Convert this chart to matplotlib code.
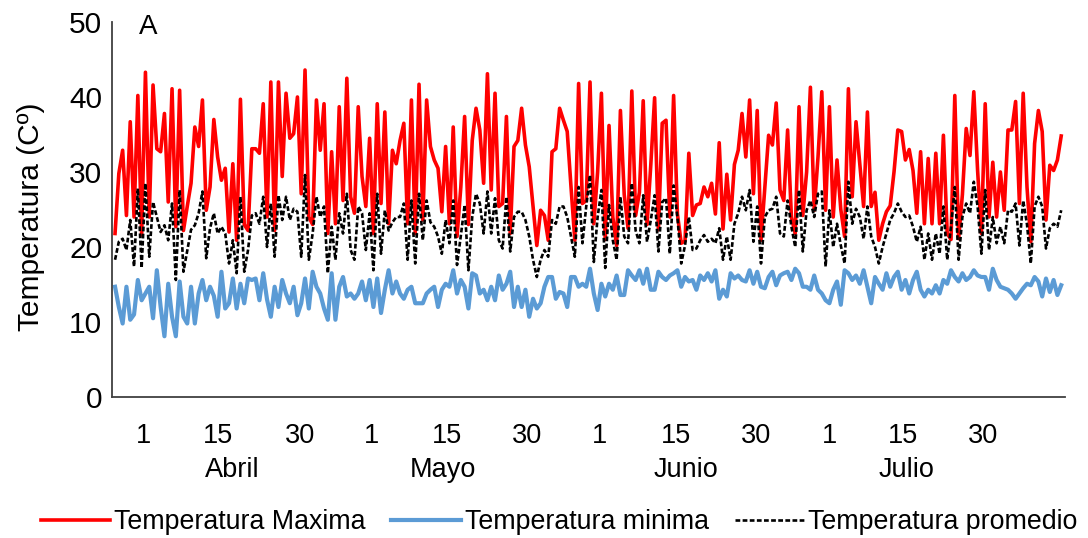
import matplotlib
matplotlib.use("Agg")
import matplotlib.pyplot as plt
import numpy as np

# ---- data ----
t_max = [21.8, 29.8, 32.9, 24.2, 36.7, 24.0, 40.2, 21.6, 43.3, 24.0, 41.6, 33.1, 32.7, 37.8, 26.0, 41.1, 22.7, 40.9, 22.2, 25.4, 28.5, 36.0, 33.4, 39.6, 24.9, 28.0, 37.0, 32.0, 28.9, 30.5, 22.0, 31.1, 20.9, 39.7, 23.0, 22.2, 33.1, 33.1, 32.5, 39.1, 24.0,
         42.0, 22.2, 42.0, 29.4, 40.5, 34.5, 35.1, 40.0, 27.1, 43.6, 24.0, 23.0, 39.6, 32.9, 39.1, 21.8, 32.7, 23.1, 38.7, 26.2, 42.5, 26.7, 24.5, 38.7, 29.4, 25.4, 34.5, 21.8, 39.1, 25.8, 38.0, 23.1, 32.9, 31.1, 34.2, 36.5, 23.1, 39.6, 21.8, 41.7, 23.6,
         39.6, 33.4, 31.6, 30.5, 24.7, 33.4, 23.1, 36.0, 21.4, 28.0, 37.4, 23.0, 34.2, 38.5, 35.6, 28.5, 43.1, 27.6, 40.5, 25.4, 25.8, 37.4, 21.8, 33.4, 34.2, 38.5, 33.6, 30.7, 25.4, 20.2, 24.9, 24.2, 20.9, 32.7, 33.1, 38.5, 36.9, 35.4, 28.0, 20.9, 41.8, 25.8, 26.2,
         42.0, 23.1, 30.0, 40.5, 21.0, 36.2, 24.0, 20.2, 38.2, 27.0, 22.5, 40.8, 24.2, 27.3, 39.5, 23.0, 31.0, 39.9, 22.3, 36.5, 36.9, 24.0, 40.2, 24.4, 20.5, 20.8, 32.5, 24.2, 25.6, 25.8, 28.0, 26.7, 28.5, 24.4, 33.9, 22.4, 29.7, 23.6, 31.0, 32.9, 37.8, 32.0,
         39.6, 27.1, 38.2, 20.9, 28.0, 34.9, 33.6, 39.2, 27.6, 26.2, 35.6, 24.0, 21.8, 38.7, 24.2, 30.0, 41.3, 24.9, 32.0, 40.7, 24.9, 38.7, 24.0, 31.6, 25.0, 21.4, 41.1, 26.7, 36.7, 31.1, 25.4, 38.0, 25.4, 27.3, 20.9, 23.1, 24.7, 25.5, 30.0, 35.6, 35.4, 31.6,
         33.0, 30.2, 24.5, 32.7, 23.1, 31.8, 23.1, 32.5, 23.1, 34.9, 21.8, 21.0, 40.2, 21.1, 27.0, 35.8, 32.2, 40.7, 30.2, 21.8, 39.1, 24.0, 31.3, 24.0, 30.0, 24.9, 35.6, 35.6, 39.4, 25.8, 40.5, 28.0, 20.7, 33.8, 38.2, 35.4, 23.6, 30.9, 30.2, 31.6, 34.8]

t_min = [14.7, 12.0, 9.8, 14.7, 10.3, 11.0, 15.6, 12.9, 13.8, 14.7, 10.5, 16.9, 12.0, 8.1, 15.1, 10.7, 8.1, 15.4, 10.7, 9.8, 14.7, 9.8, 13.8, 15.6, 12.9, 14.7, 13.5, 10.7, 16.7, 11.8, 12.5, 15.8, 11.8, 15.1, 12.5, 15.8, 15.6, 15.8, 12.9, 16.5, 13.0,
         10.7, 14.7, 12.0, 15.6, 13.8, 12.5, 14.7, 10.9, 12.5, 15.8, 11.8, 16.7, 14.7, 13.8, 11.8, 10.3, 16.5, 10.3, 14.7, 16.0, 13.4, 13.8, 13.1, 13.8, 15.4, 12.9, 15.6, 12.0, 15.8, 11.2, 14.3, 16.9, 13.8, 15.4, 13.8, 13.1, 14.3, 14.7, 12.5, 12.5, 12.5,
         13.8, 14.3, 14.7, 12.0, 14.3, 15.1, 14.7, 16.9, 13.8, 15.6, 14.7, 11.8, 16.5, 16.2, 13.8, 14.3, 12.9, 14.7, 12.9, 16.2, 14.3, 15.1, 16.7, 12.0, 14.7, 12.0, 14.3, 10.7, 13.1, 11.8, 12.5, 14.7, 16.0, 16.0, 13.1, 14.0, 13.8, 12.0, 16.0, 16.0, 14.7, 15.1, 14.7,
         17.1, 13.8, 11.6, 15.1, 13.4, 15.1, 14.3, 16.2, 13.6, 13.6, 16.9, 16.2, 15.6, 16.9, 15.1, 17.1, 14.3, 14.3, 16.7, 16.0, 15.6, 16.2, 16.5, 16.9, 14.7, 16.0, 15.4, 15.6, 14.3, 16.2, 15.6, 16.5, 15.4, 16.9, 13.1, 14.3, 13.4, 16.5, 15.8, 16.2, 15.6, 15.4,
         16.9, 15.1, 16.7, 14.7, 14.5, 16.0, 16.7, 14.9, 16.2, 16.5, 16.7, 15.6, 17.1, 16.5, 14.7, 14.7, 14.3, 16.2, 14.3, 13.8, 12.9, 12.5, 14.3, 15.4, 12.3, 16.9, 16.5, 15.6, 16.2, 15.1, 16.9, 14.7, 12.5, 16.0, 15.1, 14.3, 16.5, 14.7, 16.0, 16.7, 14.3, 15.6,
         13.8, 15.6, 16.7, 14.3, 13.4, 14.3, 13.8, 14.9, 13.8, 15.6, 15.1, 16.9, 16.0, 15.4, 16.5, 15.6, 16.0, 16.9, 16.2, 16.0, 16.0, 14.3, 17.1, 15.6, 14.7, 14.5, 14.3, 13.8, 13.1, 13.8, 14.5, 15.1, 14.9, 16.0, 15.4, 13.4, 15.8, 14.0, 15.6, 13.6, 14.9]

t_mean = [18.3, 20.7, 21.1, 19.6, 23.6, 17.4, 27.8, 17.2, 28.5, 18.7, 26.0, 24.0, 22.0, 22.9, 20.9, 25.8, 15.6, 27.6, 16.7, 19.5, 22.3, 22.9, 24.5, 27.4, 18.5, 22.5, 24.5, 21.8, 22.7, 21.8, 17.8, 20.9, 16.5, 26.7, 16.7, 19.6, 24.2, 24.5, 23.1, 26.7, 20.0,
          25.8, 18.7, 26.9, 23.6, 26.7, 23.6, 25.1, 24.7, 18.7, 29.6, 18.3, 21.8, 26.7, 24.0, 25.4, 16.5, 22.7, 18.3, 24.5, 21.8, 27.1, 19.6, 18.3, 25.4, 24.5, 19.6, 24.5, 16.9, 27.1, 19.1, 24.9, 22.2, 23.3, 24.0, 24.0, 25.8, 18.3, 26.2, 17.8, 27.1, 20.9,
          26.2, 23.3, 22.7, 21.4, 19.1, 23.6, 20.5, 26.2, 17.6, 21.5, 25.6, 16.9, 24.0, 27.1, 25.8, 21.8, 27.4, 21.8, 26.5, 20.9, 19.8, 26.7, 19.4, 24.0, 24.7, 24.7, 23.6, 21.4, 18.3, 16.0, 18.3, 19.6, 18.7, 23.6, 23.1, 25.4, 25.4, 24.0, 21.4, 18.7, 28.0, 20.5, 25.4,
          29.6, 18.0, 24.0, 27.6, 17.2, 25.6, 20.9, 18.3, 26.7, 21.4, 20.5, 28.5, 22.2, 20.5, 26.9, 20.7, 23.6, 26.9, 19.4, 26.0, 26.5, 19.1, 28.2, 24.0, 17.8, 20.2, 24.0, 19.6, 19.8, 20.9, 21.6, 20.7, 21.1, 20.5, 22.5, 18.3, 21.4, 18.3, 23.1, 24.5, 26.7, 24.9,
          27.6, 20.7, 25.4, 17.8, 24.0, 24.9, 25.1, 26.7, 21.8, 21.4, 26.2, 22.7, 20.0, 27.6, 19.4, 24.9, 26.2, 24.0, 27.1, 27.4, 17.4, 24.9, 20.0, 23.1, 20.2, 17.8, 28.7, 23.1, 25.1, 24.0, 21.1, 25.4, 21.4, 20.0, 17.8, 20.0, 21.8, 23.6, 24.5, 25.8, 24.7, 24.0,
          24.2, 22.7, 20.7, 22.7, 18.3, 21.8, 18.3, 21.8, 19.1, 25.4, 18.3, 22.7, 28.0, 18.3, 24.0, 25.8, 24.5, 28.7, 25.4, 19.1, 27.6, 19.6, 24.0, 20.5, 22.7, 20.5, 24.9, 24.7, 25.8, 20.2, 26.2, 23.0, 17.8, 25.4, 26.7, 25.4, 19.8, 22.5, 23.1, 22.7, 24.9]

day_labels = ["1", "15", "30", "1", "15", "30", "1", "15", "30", "1", "15", "30"]
day_label_pos = [7.4, 27.1, 48.7, 67.6, 87.4, 108.4, 127.6, 147.6, 168.7, 187.9, 207.4, 228.4]
months = ["Abril", "Mayo", "Junio", "Julio"]
month_pos = [30.8, 86.3, 150.3, 208.2]

series_names = ["Temperatura Maxima", "Temperatura minima", "Temperatura promedio"]

# ---- figure ----
plt.rcParams['font.family'] = ['Liberation Sans', 'DejaVu Sans']
fig = plt.figure(figsize=(10.88, 5.38), dpi=100)
ax = fig.add_axes([112/1088, 1-397/538, (1065-112)/1088, (397-22)/538])

l1, = ax.plot(np.arange(len(t_max)), t_max, color='#FF0000', lw=2.6, solid_joinstyle='round')
l2, = ax.plot(np.arange(len(t_min)), t_min, color='#5B9BD5', lw=3.0, solid_joinstyle='round')
l3, = ax.plot(np.arange(len(t_mean)), t_mean, color='black', lw=1.9, dashes=(1.8, 0.9))

ax.set_xlim(-0.8, 250.0)
ax.set_ylim(0, 50)
ax.set_yticks(range(0, 51, 10))
ax.tick_params(axis='y', length=0, pad=7, labelsize=21.5)
ax.set_xticks(day_label_pos)
ax.set_xticklabels(day_labels)
ax.tick_params(axis='x', length=0, pad=19, labelsize=19.5)

for s in ['top', 'right']:
    ax.spines[s].set_visible(False)
for s in ['left', 'bottom']:
    ax.spines[s].set_color('#404040')
    ax.spines[s].set_linewidth(1.3)

trans = ax.get_xaxis_transform()
for m, p in zip(months, month_pos):
    ax.text(p, -0.195, m, transform=trans, ha='center', va='center', fontsize=19.5)

ax.text(0.038, 0.987, "A", transform=ax.transAxes, ha='center', va='center', fontsize=20)

ax.set_ylabel("Temperatura (Cº)", fontsize=21.5)
ax.yaxis.set_label_coords(-0.07, 0.48)

fig.legend([l1, l2, l3], series_names, loc='center', ncol=3, frameon=False,
           bbox_to_anchor=(0.514, 1-522/538), fontsize=19.3, handlelength=2.6,
           handletextpad=0.15, columnspacing=0.95, borderaxespad=0)

fig.savefig("out.png", dpi=100)
